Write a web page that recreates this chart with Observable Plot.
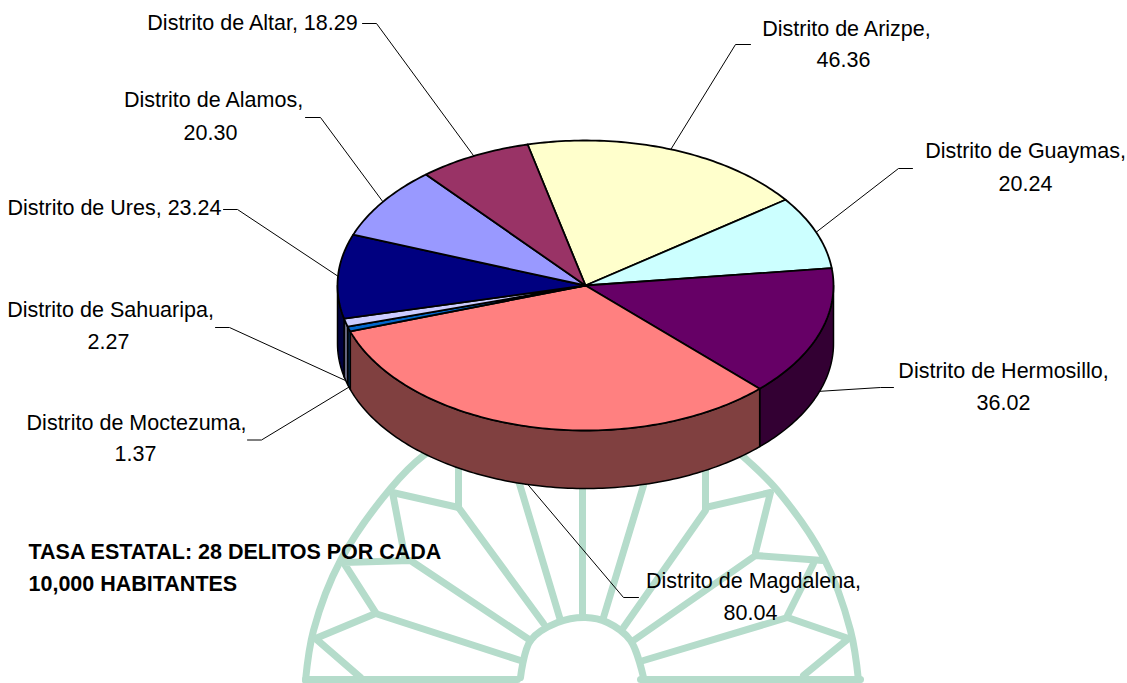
<!DOCTYPE html>
<html><head><meta charset="utf-8">
<script src="https://cdn.jsdelivr.net/npm/d3@7"></script>
<script src="https://cdn.jsdelivr.net/npm/@observablehq/plot@0.6"></script>
<style>html,body{margin:0;padding:0;background:#fff}svg{display:block}</style>
</head><body><div id="chart"></div>
<script>
// --- chart data, clockwise from the first slice
const districts = ["Arizpe","Guaymas","Hermosillo","Magdalena","Moctezuma","Sahuaripa","Ures","Alamos","Altar"];
const rates = [46.36,20.24,36.02,80.04,1.37,2.27,23.24,20.30,18.29];
const topColors = ["#FFFFCC","#CCFFFF","#660066","#FF8080","#0066CC","#CCCCFF","#000080","#9999FF","#993366"];
const sideColors = ["#808066","#668080","#330033","#804040","#003366","#666680","#000040","#4D4D80","#4D1A33"];
// label text anchors: first line x/y, second line x/y (null = one-line label)
const labelLine1 = [[846,29],[1025,151],[1003,371],[753,581],[136,423],[110,310],[114,208],[213,100],[252,23]];
const labelLine2 = [[843,60],[1025,184],[1003,403],[750,613],[135,454],[108,342],null,[210,133],null];
// leader elbows (outer end, elbow)
const leaderElbows = [
  [[750,44],[735,44]],[[912,168],[898,168]],[[893,387],[880,387]],[[638,597],[623,597]],
  [[247,439.5],[261,439.5]],[[215,327],[229,327]],[[223,209],[237,209]],[[305,117],[320,117]],[[362,23],[376,23]]
];
const note = ["TASA ESTATAL: 28 DELITOS POR CADA","10,000 HABITANTES"];
const noteY = [552,584];
// faint background emblem
const emblemArcs = [
  [[440,445],[423,455],[390,488],[340,560],[313,630],[305,680]],
  [[730,445],[747,460],[777,490],[823,557],[850,630],[858,680]],
  [[520,677],[530,640],[557,622],[585,617],[607,622],[630,640],[643,677]]
];
const emblemLines = [
  [[305,679],[517,679]],[[640,679],[860,679]],
  [[582,480],[582,617]],[[518,480],[560,620]],
  [[458,467],[458,507],[543,623]],[[458,507],[392,492],[405,560]],
  [[530,640],[410,560],[343,562],[375,612]],
  [[360,677],[315,638],[375,613],[520,660]],
  [[643,485],[603,617]],[[705,470],[705,510],[623,627]],
  [[705,507],[770,492],[755,552]],[[633,640],[755,555],[822,560]],
  [[813,563],[787,615]],[[643,660],[787,617],[848,638],[803,675]]
];

// --- pie geometry (oblique view)
const cx = 585, cy = 285, rx = 248, ry = 145, depth = 58;
const rad = d => d * Math.PI / 180;
const start = rad(-13.5);
const arcs = d3.pie().sort(null).startAngle(start).endAngle(start + 2 * Math.PI)(rates);
const px = a => cx + rx * Math.sin(a);
const py = (a, z = 0) => cy - ry * Math.cos(a) + z;
const steps = (a0, a1) => {
  const n = Math.max(2, Math.ceil((a1 - a0) / rad(1)));
  return d3.range(n + 1).map(i => a0 + (a1 - a0) * i / n);
};
const topPoly = s => {
  const pts = [{x: cx, y: cy}, ...steps(s.startAngle, s.endAngle).map(a => ({x: px(a), y: py(a)}))];
  pts.push(pts[0]);
  return pts;
};
// visible front wall: the part of the slice between 90 and 270 degrees
const norm = a => a < 0 ? a + 2 * Math.PI : a;
const wallPoly = s => {
  const a0 = Math.max(norm(s.startAngle), rad(90));
  const a1 = Math.min(norm(s.startAngle) + (s.endAngle - s.startAngle), rad(270));
  if (a1 <= a0) return null;
  const arc = steps(a0, a1);
  const pts = [...arc.map(a => ({x: px(a), y: py(a)})), ...arc.slice().reverse().map(a => ({x: px(a), y: py(a, depth)}))];
  pts.push(pts[0]);
  return pts;
};
const leaderTip = s => {
  const m = (s.startAngle + s.endAngle) / 2, nm = norm(m);
  return [px(m), py(m, nm > rad(90) && nm < rad(270) ? depth : 0)];
};

const lab = districts.flatMap((d, i) => {
  const v = rates[i].toFixed(2);
  if (labelLine2[i]) return [
    {t: `Distrito de ${d},`, x: labelLine1[i][0], y: labelLine1[i][1]},
    {t: v, x: labelLine2[i][0], y: labelLine2[i][1]}
  ];
  return [{t: `Distrito de ${d}, ${v}`, x: labelLine1[i][0], y: labelLine1[i][1]}];
});
const toXY = pts => pts.map(([x, y]) => ({x, y}));
const emblem = "#b5dccb";

const marks = [];
emblemArcs.forEach(a => marks.push(Plot.line(toXY(a), {x: "x", y: "y", stroke: emblem, strokeWidth: 7, curve: "catmull-rom"})));
emblemLines.forEach(a => marks.push(Plot.line(toXY(a), {x: "x", y: "y", stroke: emblem, strokeWidth: 7})));
arcs.forEach((s, i) => {
  const pts = [...leaderElbows[i], leaderTip(s)];
  marks.push(Plot.line(toXY(pts), {x: "x", y: "y", stroke: "#000", strokeWidth: 1}));
});
arcs.forEach((s, i) => {
  const w = wallPoly(s);
  if (w) marks.push(Plot.line(w, {x: "x", y: "y", fill: sideColors[i], stroke: "#000", strokeWidth: 1.5}));
});
arcs.forEach((s, i) => marks.push(Plot.line(topPoly(s), {x: "x", y: "y", fill: topColors[i], stroke: "#000", strokeWidth: 1.8})));
marks.push(Plot.text(lab, {x: "x", y: "y", text: "t", fontSize: 21.5, fill: "#000", textAnchor: "middle", lineAnchor: "middle"}));
marks.push(Plot.text(note.map((t, i) => ({t, y: noteY[i]})), {x: () => 28, y: "y", text: "t", fontSize: 21.5, fontWeight: "bold", fill: "#000", textAnchor: "start", lineAnchor: "middle"}));

const chart = Plot.plot({
  width: 1127, height: 683, margin: 0,
  x: {domain: [0, 1127], range: [0, 1127], axis: null},
  y: {domain: [0, 683], range: [0, 683], axis: null},
  style: {fontFamily: "'Liberation Sans', Arial, sans-serif", background: "#fff", overflow: "hidden"},
  marks
});
document.getElementById("chart").append(chart);
</script></body></html>
